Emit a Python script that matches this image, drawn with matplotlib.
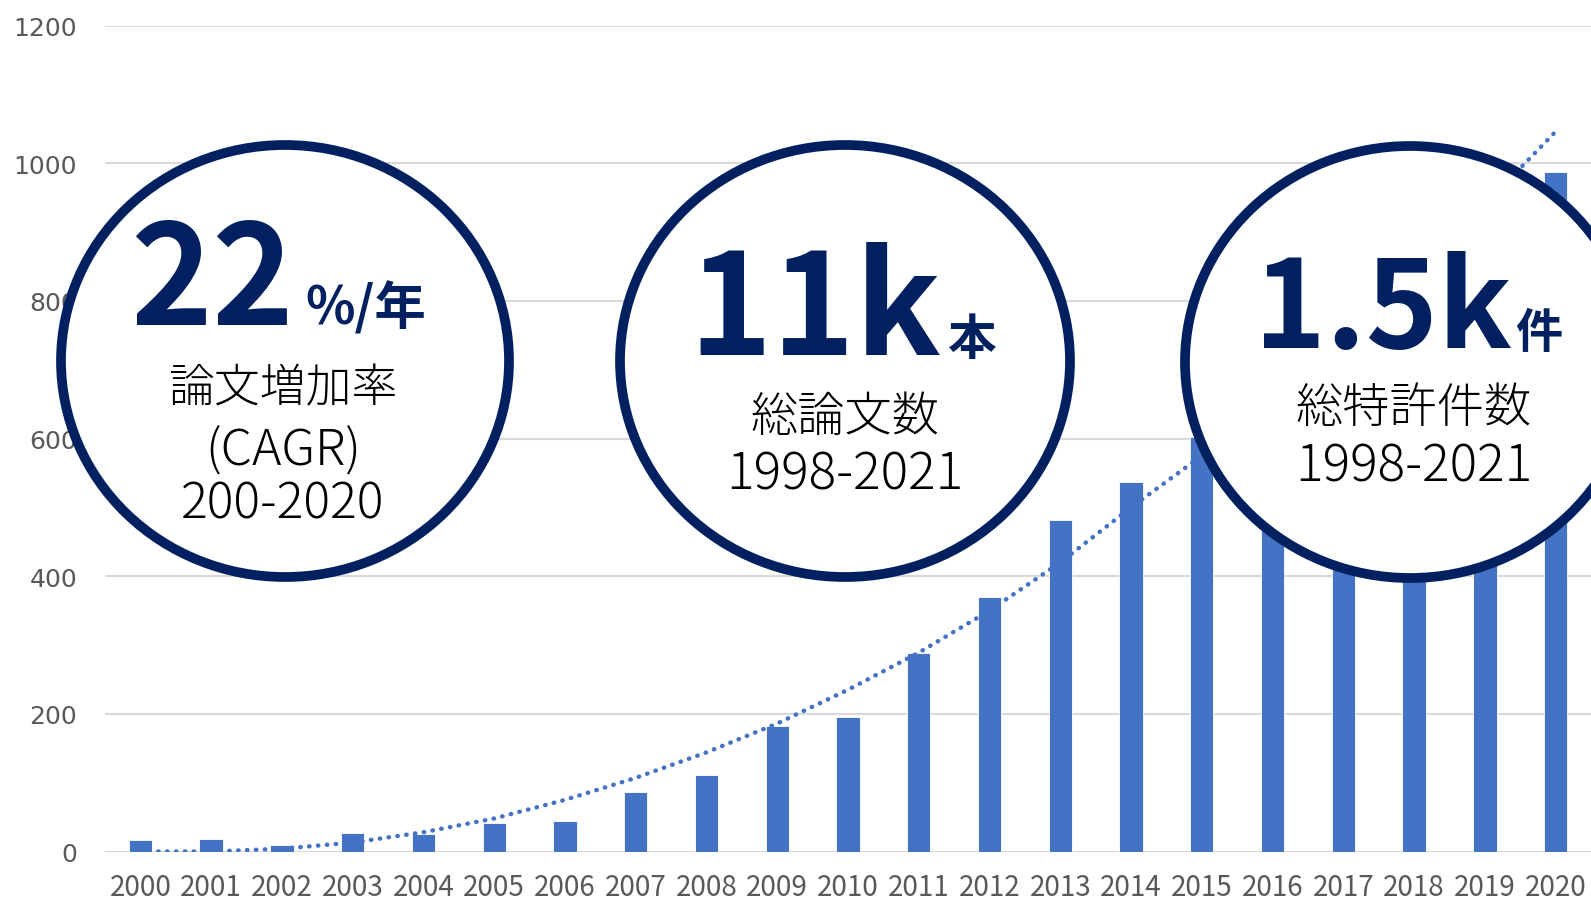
import matplotlib
matplotlib.use("Agg")
import matplotlib.pyplot as plt
from matplotlib.patches import Ellipse

plt.rcParams['font.family'] = ['Noto Sans CJK JP', 'DejaVu Sans']

# papers per year (2016-2019 hidden behind the circle in the original, estimated)
years = [str(y) for y in range(2000, 2021)]
papers = [16, 18, 9, 27, 25, 41, 44, 86, 111, 183, 196, 289, 370, 481, 537,
          603, 650, 700, 760, 820, 988]
# dotted trendline
trend = [0, 0, 4, 13, 28, 48, 75, 107, 144, 186, 235, 289, 350, 420, 500,
         575, 658, 745, 840, 940, 1046]
yticks = [0, 200, 400, 600, 800, 1000, 1200]

BAR = '#4472C4'
NAVY = '#002060'
GREY = '#595959'

W, H = 1591, 903


def fx(x):
    return x / W


def fy(y):
    return 1 - y / H


fig = plt.figure(figsize=(W / 100, H / 100), dpi=100)
ax = fig.add_axes([fx(105), fy(852.5), 1 - fx(105), fy(26.7) - fy(852.5)])

x = list(range(len(years)))
ax.bar(x, papers, width=0.33, color=BAR, edgecolor='white', linewidth=0.6, zorder=2)
ax.plot(x, trend, color=BAR, lw=3.2, linestyle=(0, (0.1, 1.9)),
        dash_capstyle='round', zorder=3)

ax.set_xlim(-0.5, len(years) - 0.5)
ax.set_ylim(0, 1200)
ax.set_yticks(yticks)
ax.set_xticks(x)
ax.set_xticklabels(years, fontsize=20, color=GREY)
for lab in ax.get_yticklabels():
    lab.set_family('DejaVu Sans')
ax.tick_params(axis='y', length=0, pad=20, labelsize=18, labelcolor=GREY)
ax.tick_params(axis='x', length=0, pad=15)
ax.grid(axis='y', color='#D9D9D9', lw=1.5, zorder=0)
ax.set_axisbelow(True)
for s in ax.spines.values():
    s.set_visible(False)

# three highlight circles
circles = [(285, 362, 448, 432), (845, 362, 450, 432), (1410, 363, 450, 432)]
for cx, cy, w, h in circles:
    fig.add_artist(Ellipse((fx(cx), fy(cy)), w / W, h / H, transform=fig.transFigure,
                           facecolor='white', edgecolor=NAVY, lw=7, zorder=5))

big = [("22", "%/年", 294, 305, 325, 100, 37),
       ("11k", "本", 941, 947, 355, 102, 35),
       ("1.5k", "件", 1512, 1515, 348, 88, 34)]
for num, unit, xr, xl, base, size, usize in big:
    fig.text(fx(xr), fy(base), num, ha='right', va='baseline', fontsize=size,
             fontweight='bold', color=NAVY, zorder=6)
    fig.text(fx(xl), fy(base), unit, ha='left', va='baseline', fontsize=usize,
             fontweight='bold', color=NAVY, zorder=6)

sub = [(283, 390, "論文増加率", 33), (283, 452, "(CAGR)", 36), (283, 505, "200-2020", 36),
       (845, 418, "総論文数", 34), (845, 475, "1998-2021", 37),
       (1414, 408, "総特許件数", 34), (1414, 467, "1998-2021", 37)]
for cx, cy, txt, size in sub:
    fig.text(fx(cx), fy(cy), txt, ha='center', va='center', fontsize=size,
             fontweight='light', color='black', zorder=6)

fig.savefig("out.png", dpi=100)
